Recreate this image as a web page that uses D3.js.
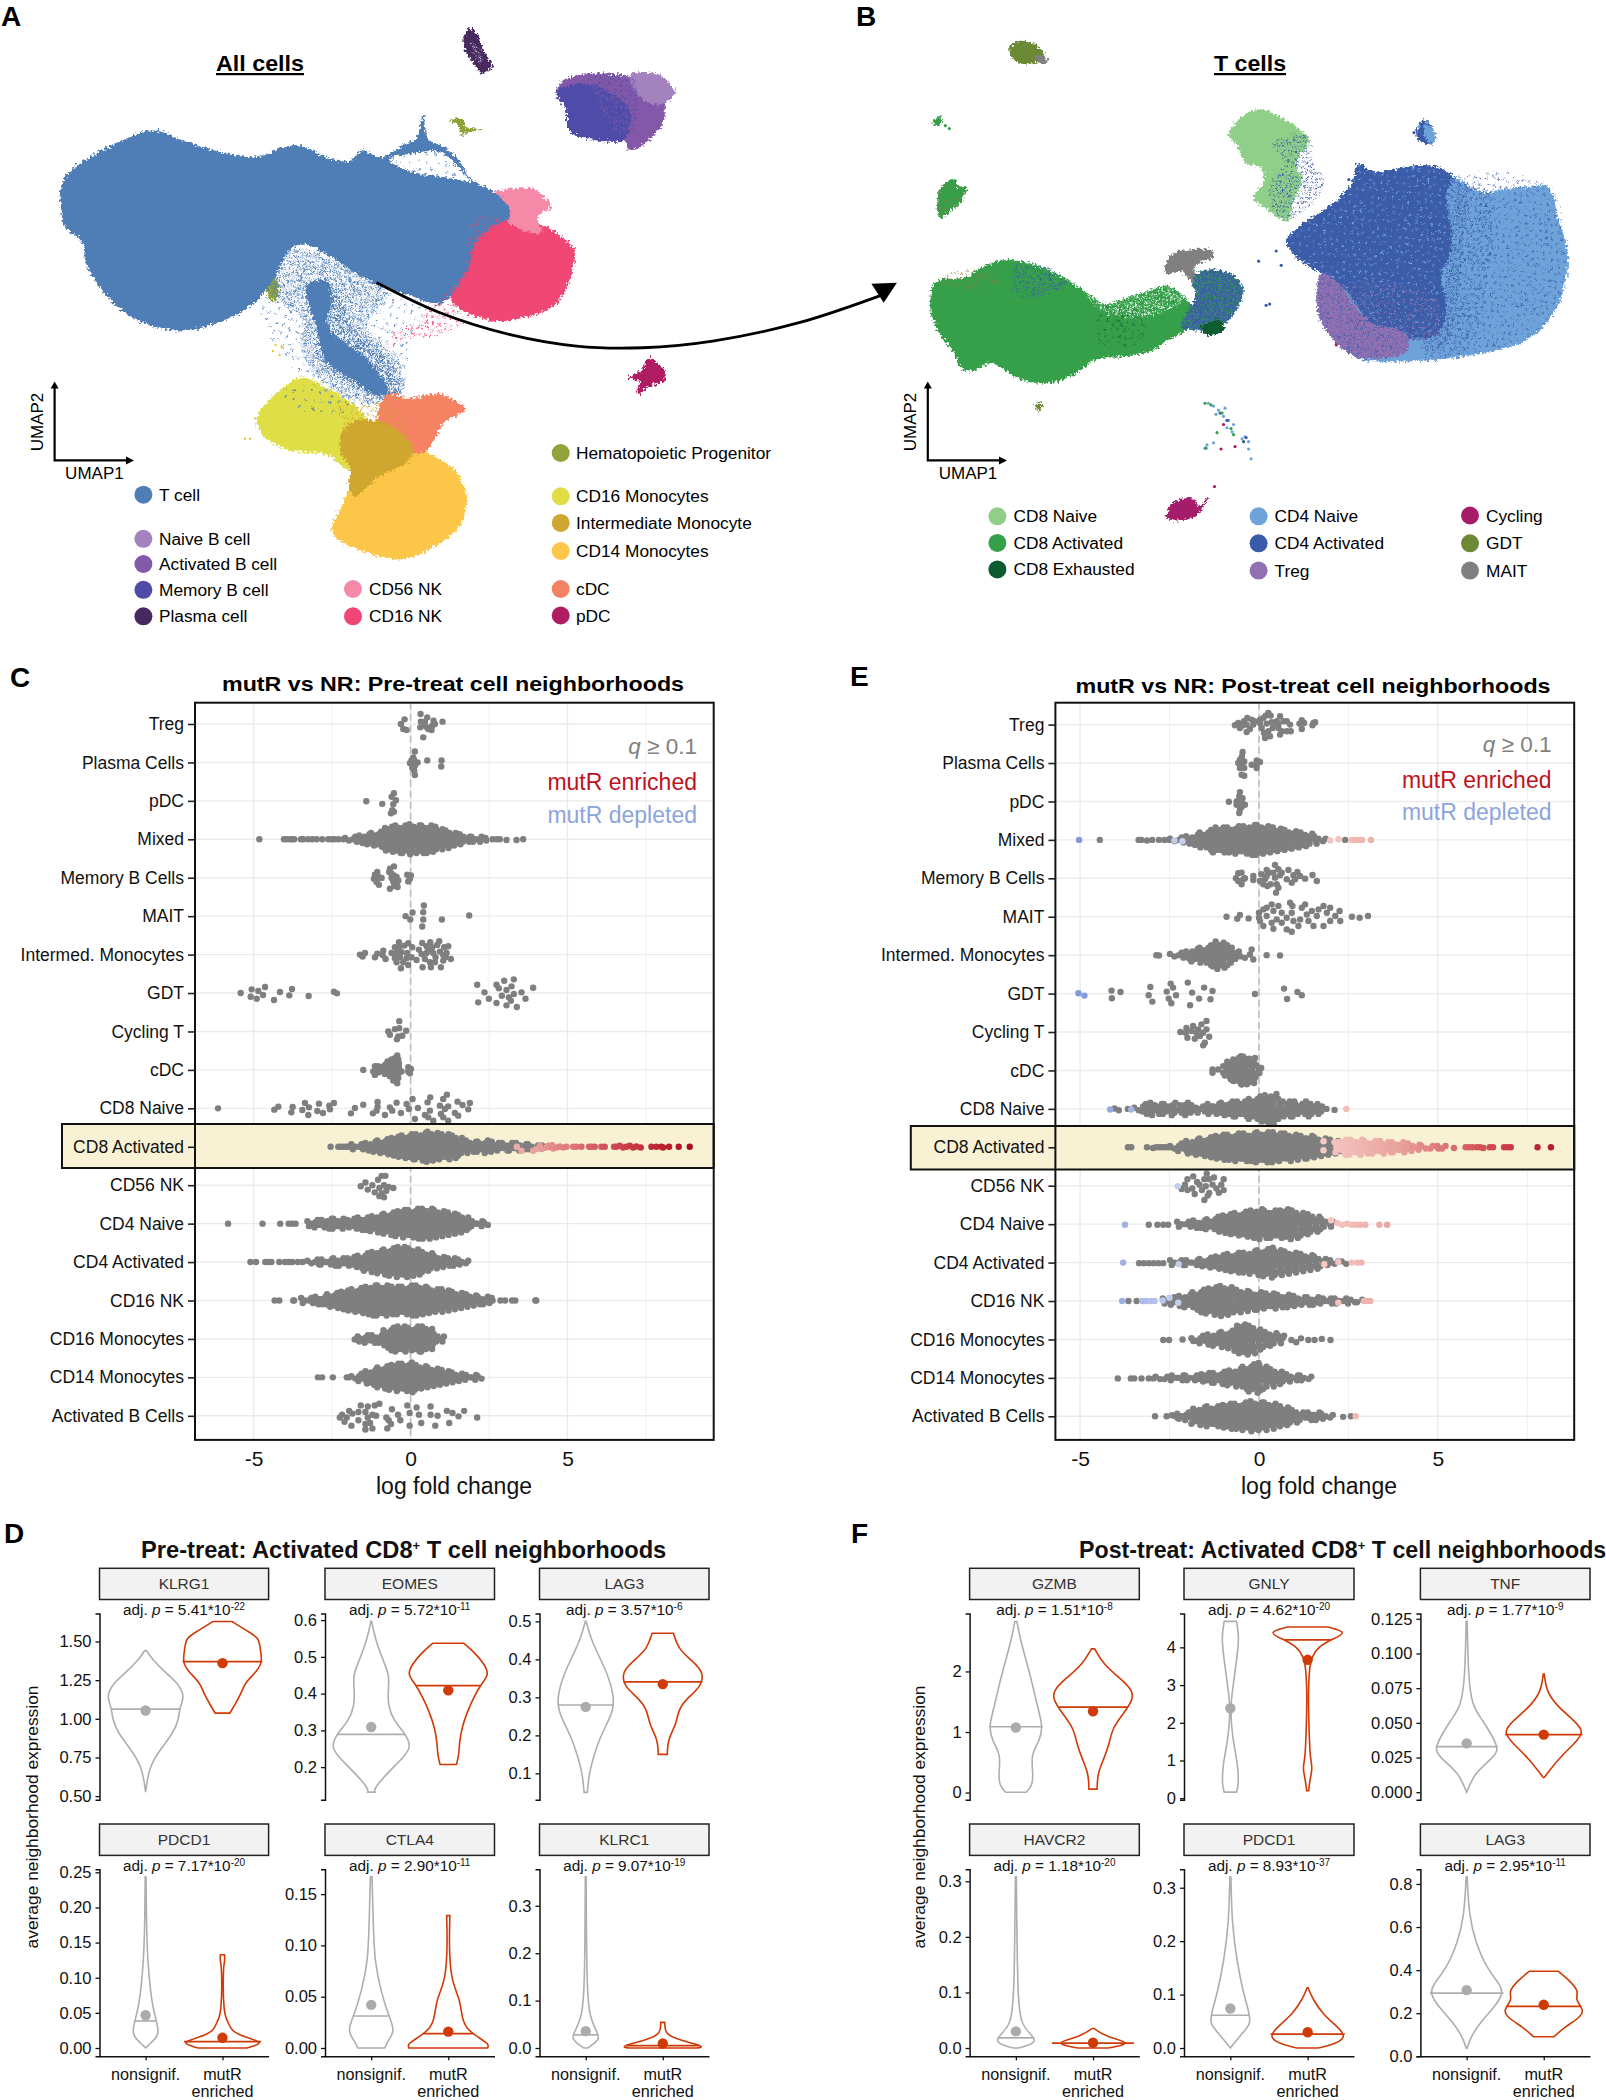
<!DOCTYPE html>
<html><head><meta charset="utf-8">
<script src="https://cdn.jsdelivr.net/npm/d3@7/dist/d3.min.js"></script>
<style>
html,body{margin:0;padding:0;background:#fff}
svg{display:block}
text{font-family:"Liberation Sans",Arial,sans-serif}
</style></head><body>
<svg id="fig" width="1606" height="2100" viewBox="0 0 1606 2100"></svg>
<script>
/* ---------- categories ---------- */
const rowNames=["Treg","Plasma Cells","pDC","Mixed","Memory B Cells","MAIT","Intermed. Monocytes","GDT","Cycling T","cDC","CD8 Naive","CD8 Activated","CD56 NK","CD4 Naive","CD4 Activated","CD16 NK","CD16 Monocytes","CD14 Monocytes","Activated B Cells"];
const xTickValues=[-5,0,5];
const groupNames=["nonsignif.","mutR enriched"];

/* ---------- panel A: UMAP outlines (UMAP units) ---------- */
const aNK16=[[935,530],[1060,550],[1110,590],[1126,612],[1115,690],[1085,750],[1020,780],[960,785],[890,745],[880,700],[900,600]];
const aNK56=[[955,480],[1045,462],[1072,490],[1082,505],[1055,530],[1060,572],[1000,548],[975,510]];
const aT=[[118,470],[130,430],[170,390],[230,350],[300,320],[360,345],[440,375],[500,385],[580,355],[640,385],[685,395],[710,368],[745,385],[790,355],[815,340],[830,282],[838,340],[870,360],[900,395],[925,440],[960,465],[990,495],[1000,530],[960,560],[930,600],[920,650],[895,705],[860,745],[800,722],[745,700],[700,670],[650,630],[600,600],[570,610],[550,650],[530,695],[490,750],[430,790],[350,810],[280,790],[220,740],[170,650],[160,590],[130,560],[118,500]];
const aHoleTop=[[762,388],[800,378],[860,372],[890,398],[915,432],[922,445],[880,436],[820,425],[775,405]];
const aHoleMid=[[555,655],[590,628],[628,650],[640,688],[590,700],[548,702]];
const aStem=[[600,700],[640,690],[665,720],[685,790],[725,840],[770,900],[782,965],[745,975],[700,950],[650,915],[620,870],[620,800],[605,745]];
const aStemDense=[[575,610],[700,670],[760,720],[720,800],[780,880],[790,960],[720,990],[630,930],[590,860],[590,780],[550,740],[530,700]];
const aStemSparse=[[520,690],[640,620],[830,740],[800,880],[785,960],[680,1000],[600,930],[535,840],[510,760]];
const aNKSpeckle=[[840,750],[900,740],[910,790],[850,825],[800,830],[760,860],[770,815],[820,790]];
const aEdgeSpeckle=[[930,530],[1000,540],[960,590],[930,650],[900,720],[880,750],[860,740],[900,680],[915,620]];
const aTopSpeckle=[[762,388],[860,372],[925,445],[820,425]];
const aMono16=[[505,1020],[545,960],[590,925],[640,950],[700,1000],[730,1060],[700,1120],[685,1150],[640,1115],[560,1100],[510,1060]];
const aMono14=[[680,1210],[700,1120],[760,1060],[820,1090],[840,1110],[890,1150],[915,1220],[900,1290],[850,1340],[790,1370],[720,1355],[660,1320],[650,1300],[665,1250]];
const aMonoInt=[[670,1060],[700,1030],[760,1040],[810,1100],[800,1130],[740,1170],[695,1215],[682,1190],[688,1150],[668,1110]];
const aCDC=[[760,965],[800,975],[860,965],[895,985],[912,1005],[870,1035],[850,1080],[830,1110],[790,1100],[740,1040]];
const aGoldSpeckle=[[660,1000],[780,1000],[800,1090],[690,1060]];
const aBlueMonoSpeckle=[[540,960],[680,950],[690,1000],[600,1010]];
const aBAll=[[1090,230],[1100,200],[1160,180],[1240,185],[1290,185],[1322,225],[1305,250],[1300,300],[1260,355],[1235,367],[1220,340],[1160,340],[1115,320],[1110,270]];
const aBMemory=[[1092,225],[1150,205],[1200,230],[1235,270],[1225,340],[1160,342],[1115,320],[1110,270]];
const aBNaive=[[1235,185],[1290,182],[1322,225],[1300,255],[1255,240]];
const aBMix=[[1150,195],[1240,190],[1250,250],[1240,330],[1190,300],[1170,240]];
const aPlasma=[[918,70],[930,75],[950,130],[965,165],[945,178],[925,150],[908,110]];
const aPlasmaHoles=[[925,100],[940,120],[945,160],[930,140]];
const aPDC=[[1230,925],[1260,905],[1268,878],[1285,885],[1305,915],[1300,935],[1275,945],[1250,965],[1248,955],[1255,935]];
const aHema=[[880,295],[905,290],[915,312],[950,316],[915,325],[905,332],[898,305]];
const aHemaSmall=[[522,680],[540,675],[545,730],[530,735]];
const aMonoYellowDots=[[540,845],[548,870],[535,860],[552,850],[490,1075],[480,1075],[500,1025]];
const aArrow=[[738,692],[860,765],[1000,820],[1130,848],[1260,852],[1400,835],[1568,790],[1735,720]];
const aArrowHead=[[1758,693],[1708,695],[1732,742]];

/* ---------- panel B: UMAP outlines ---------- */
const bCD4All=[[930,590],[960,550],[1010,510],[1060,450],[1075,400],[1100,420],[1210,405],[1260,430],[1320,470],[1370,462],[1410,458],[1450,455],[1465,490],[1470,530],[1490,600],[1492,650],[1480,720],[1450,790],[1400,840],[1300,870],[1180,885],[1080,880],[1040,850],[1000,790],[990,730],[1000,670],[950,630]];
const bCD4Act=[[930,590],[960,550],[1010,510],[1060,450],[1075,400],[1100,420],[1210,405],[1260,430],[1250,480],[1260,600],[1240,680],[1250,760],[1230,820],[1170,830],[1100,790],[1040,700],[1000,670],[950,630]];
const bTreg=[[1000,670],[1040,700],[1060,740],[1100,790],[1170,820],[1170,860],[1100,880],[1060,870],[1030,840],[1000,790],[990,730]];
const bCD4NSpeckle=[[1250,440],[1450,455],[1490,620],[1460,780],[1300,870],[1200,880],[1240,760],[1250,600]];
const bTregSpeckle=[[1040,700],[1230,730],[1230,830],[1170,830],[1100,790]];
const bEdgeSpeckle=[[1245,440],[1290,450],[1280,600],[1270,760],[1240,860],[1200,850],[1245,700]];
const bEdgeSpeckle2=[[1280,450],[1340,480],[1330,700],[1300,860],[1240,860],[1270,700]];
const bCD8A=[[220,735],[225,700],[240,685],[290,680],[330,650],[375,637],[430,650],[470,670],[500,690],[530,715],[570,745],[620,725],[660,710],[695,700],[735,740],[750,790],[700,830],[660,860],[600,875],[550,880],[510,915],[450,940],[400,930],[340,890],[300,910],[280,900],[270,870],[240,820],[222,770]];
const bCD4Small=[[740,680],[780,660],[830,680],[845,710],[830,760],[800,800],[755,810],[720,800],[735,760],[750,720]];
const bExh=[[760,800],[800,785],[805,810],[770,820]];
const bExhSpeckle=[[560,760],[640,760],[640,840],[560,840]];
const bMAIT=[[700,625],[780,613],[785,630],[750,650],[745,690],[720,665],[690,670]];
const bBlueSpeckle=[[390,650],[470,665],[490,700],[420,730],[390,720]];
const bBrownSpeckle=[[240,680],[340,660],[360,690],[250,700]];
const bGreenSpeckle=[[520,700],[600,720],[720,680],[740,720],[640,780],[560,760]];
const bGDT=[[378,115],[400,100],[430,110],[447,130],[440,150],[390,150]];
const bMAITSmall=[[428,140],[445,135],[455,155],[435,152]];
const bGreen1=[[225,295],[240,285],[243,300],[230,308]];
const bGreen2=[[240,460],[248,450],[268,438],[275,458],[292,455],[283,490],[262,515],[240,535],[234,490]];
const bOlive=[[430,990],[442,985],[440,1005],[432,1005]];
const bCD8N=[[815,330],[870,268],[960,320],[975,345],[950,400],[960,440],[940,510],[935,540],[910,530],[890,510],[865,485],[885,445],[880,410],[850,400],[830,355]];
const bCD8NSpeckle=[[900,350],[975,335],[985,400],[1005,440],[980,500],[925,540],[900,500],[900,440],[930,400]];
const bSmallCD4=[[1190,320],[1205,295],[1225,320],[1225,350],[1195,345]];
const bSmallCD4Naive=[[1205,305],[1225,320],[1225,350],[1208,340]];
const bCycling=[[692,1270],[705,1230],[745,1222],[755,1240],[775,1218],[760,1250],[740,1270],[710,1275]];
const bScatterLight=[[775,988],[785,995],[795,1005],[790,1015],[805,1020],[815,1030],[825,1040],[812,1048],[822,1058],[848,1070],[855,1082],[842,1075],[772,1090],[785,1085],[768,1098],[860,1124],[855,1100],[808,1000],[1195,310],[1212,300]];
const bScatterDark=[[850,1072],[845,1082],[812,1030],[798,1012],[1185,325],[890,748],[897,745],[875,640],[910,615],[920,650],[1070,415],[1055,440]];
const bScatterGreen=[[768,988],[780,992],[792,1060],[825,1065],[820,1050],[802,1012],[770,1098],[258,315],[250,308]];
const bScatterMag=[[805,1040],[800,1100],[828,1094],[787,1192],[1030,845]];

/* ---------- legends ---------- */
const legendAColumn1=["T cell","Naive B cell","Activated B cell","Memory B cell","Plasma cell"];
const legendAColumn2=["CD56 NK","CD16 NK"];
const legendAColumn3=["Hematopoietic Progenitor","CD16 Monocytes","Intermediate Monocyte","CD14 Monocytes","cDC","pDC"];
const legendAColors1=["#4F7DB6","#A482BE","#8459A8","#4F4CA8","#47295F"];
const legendAColors2=["#F48AA8","#F04675"];
const legendAColors3=["#8FA33A","#DFDE46","#CFA62F","#FCC648","#F48264","#B01C62"];
const legendBColumn1=["CD8 Naive","CD8 Activated","CD8 Exhausted"];
const legendBColumn2=["CD4 Naive","CD4 Activated","Treg"];
const legendBColumn3=["Cycling","GDT","MAIT"];
const legendBColors1=["#8FCF88","#35A04A","#0F5B30"];
const legendBColors2=["#6EA3DA","#3A5BA8","#9271B3"];
const legendBColors3=["#A51C6B","#6C8A35","#808080"];

/* ---------- panel C: pre-treat log fold change, individual neighbourhoods as read [x,y] ---------- */
const preTreg=[[629,61],[618,75],[625,90],[635,93],[677,45],[697,55],[678,68],[690,68],[716,65],[743,68],[720,75],[676,85],[690,80],[710,93],[696,85],[685,115],[700,90],[712,80]];
const prePlasma=[[660,157],[655,175],[650,183],[645,192],[655,190],[668,190],[697,184],[740,184],[739,202],[652,205],[658,215],[660,228],[660,200],[657,182]];
const prePDC=[[514,306],[562,314],[597,282],[590,293],[603,303],[595,315],[592,333],[597,338],[588,342]];
const preMixedTail=[[193,420],[267,420],[275,420],[285,420],[292,420],[298,420],[318,420],[325,420],[340,420],[352,420],[365,420],[382,420],[400,420],[410,420],[418,420],[430,420],[445,420],[905,420],[915,420],[935,422],[965,422],[985,420]];
const preMixedCounts=[2,3,4,5,6,7,10,11,12,12,13,12,12,12,11,9,8,6,5,3,3,3,2,1];
const preMemory=[[547,520],[540,528],[537,540],[545,550],[552,558],[550,533],[560,538],[597,503],[585,510],[583,520],[590,525],[597,530],[605,535],[590,538],[610,545],[595,548],[605,555],[598,562],[585,570],[608,565],[637,528],[648,530],[640,548],[645,540]];
const preMAIT=[[687,620],[685,640],[653,641],[632,652],[646,662],[685,662],[741,662],[823,650],[682,683]];
const preIntermed=[[495,77],[510,72],[503,83],[540,85],[547,74],[565,65],[572,90],[563,78],[612,40],[600,55],[640,43],[612,55],[628,50],[652,55],[590,72],[605,72],[620,70],[637,72],[600,88],[615,85],[635,88],[650,85],[665,93],[605,100],[618,118],[640,108],[625,100],[682,42],[706,40],[733,37],[672,62],[695,52],[712,55],[727,48],[748,55],[760,52],[680,75],[695,72],[715,72],[735,68],[755,72],[690,90],[705,100],[720,100],[745,95],[768,90],[683,115],[708,115],[738,115],[752,85],[700,65],[722,85],[745,78]];
const preGDT=[[137,192],[170,181],[190,186],[167,203],[185,209],[204,198],[210,174],[237,213],[255,189],[283,199],[291,180],[341,201],[417,188],[426,193],[847,167],[869,190],[882,209],[850,220],[905,167],[912,178],[905,222],[921,200],[928,155],[935,183],[950,172],[957,151],[957,195],[948,215],[935,229],[942,205],[966,234],[980,190],[992,209],[1015,176]];
const preCycling=[[613,276],[600,300],[613,297],[634,305],[580,307],[585,317],[622,320],[610,322],[606,330]];
const preCDC=[[505,423],[540,412],[550,412],[535,428],[545,428],[540,438],[555,420],[607,380],[600,388],[610,392],[590,392],[578,398],[600,400],[612,403],[585,408],[570,408],[598,412],[612,415],[575,420],[590,422],[603,425],[620,428],[565,425],[580,432],[595,435],[610,435],[585,442],[598,447],[610,447],[595,455],[607,463],[570,435],[640,415],[648,420],[640,428],[645,433],[560,415],[552,430]];
const preCD8N=[[69,538],[250,533],[238,542],[293,534],[289,550],[330,522],[322,543],[342,535],[340,558],[372,524],[367,546],[384,552],[403,530],[417,522],[405,541],[468,553],[480,537],[505,527],[534,553],[548,519],[548,533],[545,545],[570,558],[585,535],[592,545],[605,521],[618,552],[635,525],[642,540],[653,510],[669,537],[660,570],[690,558],[698,520],[706,505],[705,545],[700,565],[715,575],[735,530],[745,510],[756,497],[760,532],[750,540],[738,555],[745,565],[760,575],[780,552],[790,560],[788,518],[803,528],[825,522],[820,541]];
const preCD8ATail=[[407,653],[430,653],[438,653],[447,653],[455,653],[462,653]];
const preCD8ACounts=[3,3,4,5,6,7,8,9,10,11,11,12,13,12,11,11,10,8,6,5,5,6,5,4,4,4,4,3,3,2,2,1];
const preCD8AEnriched=[[966,653],[980,665],[1015,665],[1025,660],[1035,650],[1040,660],[1055,655],[1060,650],[1072,648],[1075,658],[1085,655],[1095,652],[1105,655],[1115,653],[1135,653],[1145,653],[1160,653],[1183,653],[1190,653],[1200,653],[1220,653],[1230,653],[1258,653],[1265,653],[1275,650],[1285,655],[1295,653],[1305,650],[1315,655],[1325,652],[1338,655],[1370,653],[1385,653],[1400,653],[1405,655],[1423,653],[1452,653],[1485,653]];
const preCD56=[[775,977],[790,983],[785,970],[800,975],[812,965],[820,958],[828,958],[815,980],[825,975],[835,978],[845,980],[805,988],[820,990],[830,985],[815,995],[825,997]];
const preCD4NTail=[[490,1047],[564,1047],[602,1047],[620,1047],[628,1047],[635,1047]];
const preCD4NCounts=[3,4,4,5,5,5,4,5,6,6,7,8,9,10,11,12,12,13,13,13,12,11,10,9,8,6,3,3,2];
const preCD4ATail=[[538,1117],[550,1117],[570,1117],[575,1117],[583,1117],[600,1117],[612,1117],[620,1117],[628,1117],[640,1117],[650,1117]];
const preCD4ACounts=[2,3,3,3,4,4,4,5,6,8,9,10,11,12,13,13,12,11,9,8,6,5,4,4,3,2];
const preNK16Tail=[[590,1187],[600,1187],[630,1187],[632,1187],[1075,1187],[1085,1187],[1100,1187],[1107,1187],[1150,1187],[1152,1187]];
const preNK16Counts=[3,3,4,4,6,7,8,9,10,11,12,13,13,13,12,12,12,13,13,12,11,10,10,9,8,7,6,5,4,4,3];
const preM16Tail=[[762,1258],[770,1255]];
const preM16Counts=[3,4,4,4,8,10,11,11,10,11,11,9,5,3];
const preM14Tail=[[683,1327],[692,1327],[715,1327],[745,1327],[750,1327]];
const preM14Counts=[2,4,6,7,9,10,11,12,12,13,11,10,9,8,7,6,5,4,3,3,2];
const preActB=[[735,1395],[730,1400],[740,1408],[750,1388],[757,1393],[755,1415],[770,1405],[775,1378],[785,1390],[790,1380],[805,1378],[790,1400],[800,1395],[808,1397],[785,1412],[795,1410],[785,1422],[800,1420],[832,1420],[835,1405],[840,1412],[842,1385],[855,1395],[860,1405],[875,1378],[880,1392],[880,1415],[895,1382],[900,1395],[905,1410],[925,1380],[925,1395],[940,1397],[935,1415],[960,1388],[965,1410],[972,1392],[985,1398],[997,1388],[1025,1400],[815,1375],[830,1400],[745,1400],[770,1390]];

/* ---------- panel E: post-treat ---------- */
const postTreg=[[525,77],[535,70],[540,85],[552,65],[562,55],[560,75],[548,78],[575,60],[583,65],[570,88],[560,97],[580,75],[600,70],[610,55],[625,40],[632,48],[617,48],[605,85],[620,72],[635,68],[612,100],[625,95],[615,115],[630,110],[638,85],[650,65],[660,50],[655,75],[670,65],[665,95],[660,105],[680,65],[690,75],[680,95],[692,95],[655,85],[725,62],[732,70],[718,72],[725,88],[760,70],[765,68],[757,77],[645,75],[600,60]];
const postPlasma=[[548,157],[546,170],[540,180],[553,185],[535,190],[548,195],[540,205],[553,205],[545,225],[553,228],[575,195],[590,182],[600,187],[590,195],[590,205]];
const postPDC=[[507,306],[540,277],[538,290],[548,295],[530,305],[545,305],[555,315],[530,315],[545,322],[538,340],[540,330]];
const postMixedTail=[[121,422],[237,422],[245,422],[262,424],[278,422],[298,422],[315,422],[330,422],[855,422]];
const postMixedCounts=[2,3,4,5,7,9,11,11,11,12,12,13,13,12,11,10,9,8,7,6,4,2];
const postMixedDepleted=[[59,422],[344,424],[368,426]];
const postMixedEnriched=[[810,424],[835,420],[875,422],[885,422],[895,422],[905,422],[932,422]];
const postMemory=[[535,522],[545,520],[528,537],[535,545],[545,555],[555,537],[550,540],[580,530],[580,542],[604,525],[600,545],[620,512],[628,520],[620,530],[615,540],[610,555],[645,497],[655,510],[640,520],[660,528],[645,535],[632,555],[622,560],[650,555],[648,580],[655,565],[685,512],[700,528],[680,540],[695,550],[712,518],[720,530],[735,538],[757,527],[770,545],[705,540],[665,520]];
const postMAIT=[[500,652],[532,658],[540,647],[566,657],[597,640],[597,655],[600,665],[610,630],[620,625],[635,615],[640,635],[655,620],[665,640],[650,660],[635,670],[620,650],[610,680],[665,670],[640,688],[680,655],[690,610],[697,620],[695,640],[700,665],[680,690],[695,697],[715,680],[725,625],[735,615],[740,645],[720,660],[745,665],[755,635],[775,630],[790,620],[760,680],[790,680],[800,640],[810,625],[825,650],[838,635],[810,665],[840,665],[770,650],[875,652],[898,655],[923,650]];
const postIntermedDots=[[290,77],[298,78],[575,60],[570,75],[555,85],[580,90],[620,77],[660,78]];
const postIntermedCounts=[2,3,4,6,7,9,12,11,9,4];
const postGDT=[[156,184],[183,188],[157,207],[272,173],[267,198],[278,217],[321,187],[333,163],[340,175],[349,198],[327,208],[335,222],[384,160],[397,190],[391,228],[418,208],[433,175],[458,185],[452,210],[585,194],[672,178],[712,188],[725,198],[681,209]];
const postGDTDepleted=[[57,192],[75,199]];
const postCycling=[[362,308],[380,296],[378,310],[383,325],[400,290],[395,305],[405,328],[415,300],[425,285],[440,275],[430,310],[420,320],[440,300],[448,322],[435,340],[430,348],[410,310]];
const postCDCDots=[[458,420],[458,430],[475,420],[490,410],[490,430],[500,420],[495,438],[510,410],[520,390],[543,380],[568,388],[520,455],[545,465],[570,458]];
const postCDCCounts=[8,11,12,11,5];
const postCD8NDots=[[165,537],[178,542],[205,538],[823,541]];
const postCD8NCounts=[2,5,6,5,5,6,4,6,4,3,5,5,6,7,7,7,9,11,12,13,9,7,7,5,7,5,3];
const postCD8NDepleted=[[152,540],[215,540]];
const postCD8NEnriched=[[858,538]];
const postCD8ATail=[[205,653],[215,653],[262,653],[280,655],[290,653],[300,653],[310,653],[320,653],[330,653]];
const postCD8ACounts=[2,4,6,7,8,9,10,11,11,12,12,12,13,13,13,12,12,11,10,10,9,8,7,6,4,3];
const postCD8AEnrichedCounts=[5,7,7,7,6,6,6,5,5,5,4,3,2,2,2,2];
const postCD8AEnriched=[[790,635],[790,662],[835,637],[1180,655],[1215,653],[1225,653],[1235,653],[1248,653],[1258,653],[1268,655],[1287,653],[1297,653],[1330,653],[1340,653],[1350,653],[1430,653],[1470,653]];
const postCD56=[[740,955],[735,965],[745,965],[755,962],[775,965],[700,965],[712,960],[720,970],[695,975],[710,982],[725,975],[738,978],[752,975],[770,975],[775,985],[765,990],[745,990],[730,985],[735,1003],[742,995],[700,985],[715,992],[760,982],[688,983]];
const postCD56Depleted=[[680,978]];
const postCD4NTail=[[620,1048],[638,1048],[650,1048],[660,1048]];
const postCD4NCounts=[3,3,4,4,5,7,8,9,10,11,12,13,12,12,12,13,12,10,9,7,5,3];
const postCD4NDepleted=[[571,1048]];
const postCD4NEnriched=[[997,1040],[1010,1045],[1020,1048],[1030,1046],[1040,1048],[1050,1048],[1058,1048],[1068,1048],[1097,1048],[1113,1048]];
const postCD4ATail=[[600,1118],[610,1118],[620,1118],[630,1118],[640,1118],[650,1118]];
const postCD4ACounts=[3,3,3,3,4,5,6,7,8,9,9,10,11,12,13,11,10,9,8,7,6,4,3,2,2];
const postCD4ADepleted=[[567,1117],[682,1120]];
const postCD4AEnriched=[[983,1120],[1012,1116],[1040,1117],[1052,1117],[1060,1117]];
const postNK16Tail=[[578,1187],[595,1187]];
const postNK16Counts=[3,4,5,6,8,10,11,12,13,12,10,9,8,8,7,7,6,6,5,4,4,4,3,3,3,3,2,2];
const postNK16Depleted=[[565,1187],[607,1187],[615,1187],[625,1187],[632,1187],[649,1186],[663,1181],[681,1190]];
const postNK16Enriched=[[1012,1190],[1065,1187],[1072,1187],[1078,1187]];
const postM16Dots=[[650,1258],[662,1258],[690,1257],[712,1260],[900,1250],[915,1258],[925,1262],[935,1255],[950,1258],[963,1258],[978,1256],[996,1258]];
const postM16Counts=[2,4,5,6,7,8,12,13,12,9,7,6,4];
const postM14Tail=[[556,1328],[583,1328],[590,1328],[605,1328],[620,1328],[630,1328]];
const postM14Counts=[2,2,3,3,3,3,4,5,5,6,7,8,10,12,13,10,8,6,4,3,3,2];
const postActBDots=[[633,1397],[657,1397],[668,1395],[675,1397],[680,1400],[1022,1398],[1038,1397]];
const postActBCounts=[3,4,7,8,9,9,10,11,11,12,13,12,12,11,9,8,6,4,4,4,3,2];
const postActBEnriched=[[1048,1397]];

/* ---------- panels D and F: violin profiles, [expression, relative density] ---------- */
const klrg1Ns=[[1.442,.02],[1.381,.17],[1.295,.5],[1.231,.79],[1.144,.96],[1.08,.83],[.994,.81],[.907,.67],[.8,.35],[.692,.1],[.584,.03],[.526,0]];
const klrg1Mut=[[1.629,.23],[1.565,.62],[1.522,.9],[1.446,.92],[1.36,.98],[1.295,.79],[1.23,.54],[1.166,.46],[1.1,.32],[1.037,.18]];
const eomesNs=[[.5965,.01],[.5515,.09],[.49,.29],[.449,.45],[.408,.41],[.367,.41],[.326,.55],[.296,.8],[.255,1],[.224,.76],[.183,.39],[.142,.07],[.132,.09]];
const eomesMut=[[.537,.38],[.511,.65],[.48,.88],[.452,1],[.429,.82],[.388,.61],[.347,.45],[.306,.33],[.265,.27],[.234,.26],[.207,.2]];
const lag3Ns=[[.5,.01],[.456,.12],[.407,.33],[.357,.55],[.308,.68],[.268,.68],[.229,.51],[.189,.33],[.15,.21],[.1,.08],[.05,.04]];
const lag3Mut=[[.469,.26],[.427,.38],[.397,.71],[.367,1],[.328,.94],[.298,.59],[.268,.38],[.229,.33],[.189,.12],[.15,.11]];
const pdcd1Ns=[[.2436,.01],[.1767,.02],[.123,.05],[.08,.12],[.0535,.19],[.0268,.32],[.016,.29],[.005,.09],[0,0]];
const pdcd1Mut=[[.1328,.05],[.123,.06],[.118,.015],[.048,.02],[.0375,.14],[.024,.21],[.016,.53],[.008,1],[.0027,.76],[0,.59]];
const ctla4Ns=[[.1668,.02],[.121,.05],[.0843,.08],[.055,.24],[.033,.41],[.0165,.59],[.0073,.41],[0,.33]];
const ctla4Mut=[[.129,.04],[.1027,.02],[.066,.06],[.0477,.29],[.0293,.33],[.0183,.45],[.011,.71],[.0037,1],[0,.96]];
const klrc1Ns=[[.361,.01],[.1825,.02],[.103,.05],[.0635,.11],[.0357,.26],[.0198,.35],[.0079,.18],[0,.05]];
const klrc1Mut=[[.054,.05],[.032,.05],[.0198,.29],[.0079,.82],[.0016,1],[0,.82]];
const gzmbNs=[[2.826,.025],[2.553,.1],[2.18,.25],[1.807,.4],[1.435,.52],[1.093,.66],[.876,.59],[.627,.37],[.379,.41],[.13,.42],[.006,.25]];
const gzmbMut=[[2.373,.04],[2.118,.25],[1.87,.69],[1.683,.97],[1.528,.97],[1.311,.75],[1.062,.47],[.814,.4],[.565,.27],[.317,.11],[.056,.1]];
const gnlyNs=[[4.688,.15],[4.249,.22],[3.651,.15],[2.653,.025],[2.354,.006],[1.656,.04],[.858,.19],[.359,.2],[.16,.15]];
const gnlyMut=[[4.539,.5],[4.399,1],[4.2,.56],[4,.25],[3.75,.1],[3.451,.04],[2.653,.012],[1.656,.04],[1.057,.06],[.808,.125],[.459,.05],[.2,.025]];
const tnfNs=[[.1231,.012],[.0841,.04],[.0624,.125],[.0515,.4],[.0407,.62],[.0298,.81],[.023,.56],[.0136,.19],[0,0]];
const tnfMut=[[.0851,.012],[.0732,.06],[.0624,.31],[.0515,.75],[.0434,1],[.0352,.75],[.0244,.37],[.0106,.012]];
const havcr2Ns=[[.308,.012],[.088,.04],[.0406,.125],[.0203,.44],[.0102,.47],[.0034,.25],[0,.06]];
const havcr2Mut=[[.0352,.025],[.0203,.31],[.0088,1],[0,.37]];
const pdcd1PostNs=[[.32,.012],[.232,.04],[.162,.16],[.1056,.31],[.0704,.44],[.0458,.52],[.0246,.25],[0,0]];
const pdcd1PostMut=[[.1127,.012],[.0915,.125],[.0634,.37],[.0423,.69],[.019,1],[.0035,.5],[0,.25]];
const lag3PostNs=[[.833,.012],[.65,.06],[.5275,.22],[.405,.5],[.335,.81],[.292,.9],[.231,.69],[.161,.35],[.091,.1],[.038,.012]];
const lag3PostMut=[[.395,.35],[.353,.62],[.3,.87],[.265,.75],[.213,1],[.178,.87],[.1345,.5],[.091,.25]];

const geneAnnotations=["KLRG1","EOMES","LAG3","PDCD1","CTLA4","KLRC1","GZMB","GNLY","TNF","HAVCR2","PDCD1","LAG3"];
const adjP=["5.41","5.72","3.57","7.17","2.90","9.07","1.51","4.62","1.77","1.18","8.93","2.95"];
const adjExp=["-22","-11","-6","-20","-11","-19","-8","-20","-9","-20","-37","-11"];
const nsMedians=[1.0625,.289,.28,.0385,.0312,.0278,1.087,2.38,.0328,.0183,.0613,.293];
const nsMeans=[1.054,.309,.275,.0466,.042,.0357,1.075,2.384,.0352,.03,.074,.307];
const mutMedians=[1.37,.4215,.341,.009,.014,.005,1.41,4.2,.0415,.0088,.026,.232];
const mutMeans=[1.36,.409,.335,.0145,.016,.0095,1.342,3.67,.0415,.0095,.0296,.239];
const axisDomains=[[.477,1.681],[.1114,.618],[.0307,.5208],[-.0118,.2543],[-.0081,.1742],[-.0175,.377],[-.118,2.957],[-.04,4.898],[-.0054,.1288],[-.0149,.3216],[-.0155,.3345],[0,.868]];
const axisTicks=[[.5,.75,1,1.25,1.5],[.2,.3,.4,.5,.6],[.1,.2,.3,.4,.5],[0,.05,.1,.15,.2,.25],[0,.05,.1,.15],[0,.1,.2,.3],[0,1,2],[0,1,2,3,4],[0,.025,.05,.075,.1,.125],[0,.1,.2,.3],[0,.1,.2,.3],[0,.2,.4,.6,.8]];
const axisFormats=[".2f",".1f",".1f",".2f",".2f",".1f",".0f",".0f",".3f",".1f",".1f",".1f"];
const violinNs=[klrg1Ns,eomesNs,lag3Ns,pdcd1Ns,ctla4Ns,klrc1Ns,gzmbNs,gnlyNs,tnfNs,havcr2Ns,pdcd1PostNs,lag3PostNs];
const violinMut=[klrg1Mut,eomesMut,lag3Mut,pdcd1Mut,ctla4Mut,klrc1Mut,gzmbMut,gnlyMut,tnfMut,havcr2Mut,pdcd1PostMut,lag3PostMut];

/* ---------- layout ---------- */
const FONT='"Liberation Sans",Arial,sans-serif';
const svg=d3.select("#fig");
const defs=svg.append("defs");
const grain=defs.append("filter").attr("id","grain").attr("x","-5%").attr("y","-5%").attr("width","110%").attr("height","110%");
grain.append("feTurbulence").attr("type","fractalNoise").attr("baseFrequency",.4).attr("numOctaves",2).attr("seed",4).attr("result","n");
grain.append("feDisplacementMap").attr("in","SourceGraphic").attr("in2","n").attr("scale",8).attr("xChannelSelector","R").attr("yChannelSelector","G");
const speckleTile=[[3,5],[11,2],[17,9],[6,13],[14,17],[21,20],[25,6],[2,22],[28,14],[10,25],[19,27],[27,26]];
function speckle(id,color,size,r,angle=23){
  const p=defs.append("pattern").attr("id",id).attr("patternUnits","userSpaceOnUse").attr("width",size).attr("height",size).attr("patternTransform",`rotate(${angle})`);
  speckleTile.forEach(d=>p.append("circle").attr("cx",d[0]*size/30).attr("cy",d[1]*size/30).attr("r",r).attr("fill",color));
  return `url(#${id})`;
}
const sBlue=speckle("sBlue","#4F7DB6",13,1.15), sBlueOuter=speckle("sBlueOuter","#4F7DB6",27,1.0,41), sRed=speckle("sRed","#F04675",20,1.1), sBlue2=speckle("sBlue2","#4F7DB6",30,1.0);
const sPlasma=speckle("sPlasma","#ffffff",12,.8);
const sGold=speckle("sGold","#CFA62F",18,1.1), sMem=speckle("sMem","#4F4CA8",15,1.0), sAct=speckle("sAct","#8459A8",16,1.0);
const sDark=speckle("sDark","#3A5BA8",22,1.0), sLight=speckle("sLight","#7BAEE0",24,.95), sTreg=speckle("sTreg","#3A5BA8",15,1.0), sTreg2=speckle("sTreg2","#9271B3",18,1.0);
const sDarkGreen=speckle("sDarkGreen","#0F5B30",22,1.0), sBlueB=speckle("sBlueB","#3A5BA8",16,1.1), sBrown=speckle("sBrown","#8A7A45",18,1.0), sWhite=speckle("sWhite","#ffffff",14,1.0);
const sMix=speckle("sMix","#3A5BA8",14,1.05,37), sMix2=speckle("sMix2","#3A5BA8",20,1.0,11), sGreenB=speckle("sGreenB","#35A04A",12,1.1);

const aX=d3.scaleLinear().domain([0,1568]).range([0,800]), aY=d3.scaleLinear().domain([0,1568]).range([0,640]);
const bX=d3.scaleLinear().domain([0,1568]).range([820,1606]), bY=aY;
const blob=(X,Y)=>d3.line().x(d=>X(d[0])).y(d=>Y(d[1])).curve(d3.curveCatmullRomClosed.alpha(.5));
const straight=(X,Y)=>d3.line().x(d=>X(d[0])).y(d=>Y(d[1]));

function drawLayers(g,layers,X,Y){
  const gen=blob(X,Y);
  g.selectAll("path").data(layers).join("path").attr("d",d=>gen(d[0])).attr("fill",d=>d[1]);
}
/* panel A */
const gA=svg.append("g").attr("filter","url(#grain)");
drawLayers(gA,[
 [aBAll,"#8459A8"],[aBNaive,"#A482BE"],[aBMemory,"#4F4CA8"],[aBMix,sMem],[aBMix,sAct],
 [aPlasma,"#47295F"],[aPlasmaHoles,sPlasma],[aPDC,"#B01C62"],[aHema,"#8FA33A"],[aHemaSmall,"#8FA33A"],
 [aNK16,"#F04675"],[aNK56,"#F48AA8"],[aT,"#4F7DB6"],
 [aHoleTop,"#ffffff"],[aHoleMid,"#ffffff"],[aTopSpeckle,sBlue2],[aStemSparse,sBlueOuter],[aStemDense,sBlue],[aStem,sBlue],[aStem,sBlue],[aNKSpeckle,sRed],[aEdgeSpeckle,sRed],
 [aMono16,"#DFDE46"],[aMono14,"#FCC648"],[aCDC,"#F48264"],[aMonoInt,"#CFA62F"],[aGoldSpeckle,sGold],[aBlueMonoSpeckle,sBlue2]
],aX,aY);
const aStemCore=[[600,700],[640,690],[650,740],[640,790],[670,835],[720,880],[760,960],[740,970],[690,930],[640,885],[620,800],[605,745]];
gA.append("path").attr("d",blob(aX,aY)(aStemCore)).attr("fill","#4F7DB6");
svg.append("g").selectAll("circle").data(aMonoYellowDots).join("circle").attr("cx",d=>aX(d[0])).attr("cy",d=>aY(d[1])).attr("r",1.2).attr("fill","#E9C24A");
svg.append("path").attr("d",d3.line().x(d=>aX(d[0])).y(d=>aY(d[1])).curve(d3.curveCatmullRom)(aArrow)).attr("fill","none").attr("stroke","#000").attr("stroke-width",2.8);
svg.append("path").attr("d",straight(aX,aY)(aArrowHead)+"Z").attr("fill","#000");

/* panel B */
const gB=svg.append("g").attr("filter","url(#grain)");
drawLayers(gB,[
 [bCD4All,"#6EA3DA"],[bCD4NSpeckle,sDark],[bCD4Act,"#3A5BA8"],[bCD4Act,sLight],[bEdgeSpeckle,sMix],[bEdgeSpeckle2,sMix2],[bTreg,"#9271B3"],[bTreg,sTreg],[bTregSpeckle,sTreg2],
 [bCD8N,"#8FCF88"],[bCD8NSpeckle,sBlueB],
 [bCD8A,"#35A04A"],[bCD4Small,"#3A5BA8"],[bCD4Small,sGreenB],[bMAIT,"#808080"],[bExh,"#0F5B30"],[bExhSpeckle,sDarkGreen],[bBlueSpeckle,sBlueB],[bBrownSpeckle,sBrown],[bGreenSpeckle,sWhite],
 [bGDT,"#6C8A35"],[bMAITSmall,"#808080"],[bGreen1,"#35A04A"],[bGreen2,"#35A04A"],[bGreen2,sBrown],[bOlive,"#6C8A35"],
 [bSmallCD4,"#3A5BA8"],[bSmallCD4Naive,"#6EA3DA"],[bCycling,"#A51C6B"]
],bX,bY);
[[bScatterLight,"#6EA3DA"],[bScatterDark,"#3A5BA8"],[bScatterGreen,"#35A04A"],[bScatterMag,"#A51C6B"]].forEach(([pts,c])=>{
  svg.append("g").selectAll("circle").data(pts).join("circle").attr("cx",d=>bX(d[0])).attr("cy",d=>bY(d[1])).attr("r",1.6).attr("fill",c);
});

/* titles / panel letters */
function label(x,y,t,size,opts={}){
  const e=svg.append("text").attr("x",x).attr("y",y).text(t).attr("font-size",size).attr("fill",opts.fill||"#000")
   .attr("text-anchor",opts.anchor||"start").attr("font-weight",opts.bold?"bold":"normal");
  if(opts.underline)e.attr("text-decoration","underline");
  if(opts.rotate)e.attr("transform",`rotate(-90 ${x} ${y})`);
  if(opts.len)e.attr("textLength",opts.len).attr("lengthAdjust","spacingAndGlyphs");
  return e;
}
[["A",1,26],["B",856,26],["C",10,687],["E",850,686],["D",4,1543],["F",851,1543]].forEach(d=>label(d[1],d[2],d[0],28,{bold:true}));
label(260,71,"All cells",22,{bold:true,anchor:"middle",underline:true,len:88});
label(1250,71,"T cells",22,{bold:true,anchor:"middle",underline:true,len:72});

/* UMAP key arrows */
function umapKey(x0,yBase,xEnd,yEnd,tx,ty){
  const g=svg.append("g");
  g.append("path").attr("d",d3.line()([[x0,yEnd+6],[x0,yBase],[xEnd-6,yBase]])).attr("fill","none").attr("stroke","#000").attr("stroke-width",2.2);
  g.append("path").attr("d",d3.line()([[x0-4,yEnd+7],[x0,yEnd],[x0+4,yEnd+7]])+"Z").attr("fill","#000");
  g.append("path").attr("d",d3.line()([[xEnd-8,yBase-4],[xEnd,yBase],[xEnd-8,yBase+4]])+"Z").attr("fill","#000");
  label(tx,yBase+19,"UMAP1",17,{anchor:"middle"});
  label(ty,(yBase+yEnd)/2+1,"UMAP2",17,{anchor:"middle",rotate:true});
}
umapKey(54.6,460.4,134,381.6,94.4,43);
umapKey(927.8,460.4,1007,381.6,968,916);

function legend(names,colors,cx,tx,ys){
  names.forEach((n,i)=>{
    svg.append("circle").attr("cx",cx).attr("cy",ys[i]).attr("r",9).attr("fill",colors[i]);
    label(tx,ys[i]+6,n,17.3);
  });
}
legend(legendAColumn1,legendAColors1,143.4,159,[494.7,538.8,564,589.8,616.3]);
legend(legendAColumn2,legendAColors2,353,369,[589,616.3]);
legend(legendAColumn3,legendAColors3,560.7,576,[453,496.3,522.9,551,589,615.5]);
legend(legendBColumn1,legendBColors1,997.4,1013.5,[516.3,542.9,569.4]);
legend(legendBColumn2,legendBColors2,1258.6,1274.5,[516.3,543.3,570.6]);
legend(legendBColumn3,legendBColors3,1470,1486,[515.5,543.3,570.6]);

/* ---------- beeswarm panels ---------- */
const enrColor=d3.scaleLinear().domain([2,4,5.5,7,8.8]).range(["#F5C6C1","#E8A09B","#D9696A","#C93A45","#AE0F1E"]);
const depColor=d3.scaleLinear().domain([-5,-3.5,-2]).range(["#7F9ADB","#A4B7E4","#C8D3EF"]);
const GRAY="#7F7F7F";
const staggerLfc=[-.0875,.0375,-.0375,.0875,-.0625,.0625,-.0125,.0125];

function beeswarm(cfg){
  const x=d3.scaleLinear().domain(cfg.xDomain).range([cfg.left,cfg.right]);
  const rowY=d3.scalePoint().domain(rowNames).range(cfg.rowRange);
  const stackY=d3.scaleLinear().domain([0,1]).range([0,2.5]);
  const g=svg.append("g");
  const grid=g.append("g");
  [-7.5,-2.5,2.5,7.5].filter(v=>v>cfg.xDomain[0]&&v<cfg.xDomain[1]).forEach(v=>grid.append("line").attr("x1",x(v)).attr("x2",x(v)).attr("y1",cfg.top).attr("y2",cfg.bottom).attr("stroke","#f0f0f0").attr("stroke-width",1));
  xTickValues.forEach(v=>grid.append("line").attr("x1",x(v)).attr("x2",x(v)).attr("y1",cfg.top).attr("y2",cfg.bottom).attr("stroke","#ebebeb").attr("stroke-width",1.4));
  rowNames.forEach(n=>grid.append("line").attr("x1",cfg.left).attr("x2",cfg.right).attr("y1",rowY(n)).attr("y2",rowY(n)).attr("stroke","#ebebeb").attr("stroke-width",1.4));
  grid.append("line").attr("x1",x(0)).attr("x2",x(0)).attr("y1",cfg.top).attr("y2",cfg.bottom).attr("stroke","#bdbdbd").attr("stroke-width",1.6).attr("stroke-dasharray","7 4");

  function dotsFor(row){
    const sheet=row.low?cfg.lowSheet:cfg.hiSheet, ys=row.low?1.823:3;
    const out=[];
    const readings=(arr,kind)=>(arr||[]).forEach(p=>out.push({v:sheet(p[0]),dy:(p[1]-row.center)/ys,kind}));
    const bins=(counts,from,kind)=>{ (counts||[]).forEach((n,i)=>{
        for(let k=0;k<n;k++) out.push({v:from+i*.2+staggerLfc[(k+i)%8],dy:stackY(k-(n-1)/2),kind});
    });};
    readings(row.dots,"n"); bins(row.counts,row.from,"n");
    bins(row.enrCounts,row.enrFrom,"e"); readings(row.enr,"e"); readings(row.dep,"d");
    return out;
  }
  function drawRow(parent,row){
    parent.append("g").selectAll("circle").data(dotsFor(row)).join("circle")
      .attr("cx",d=>x(d.v)).attr("cy",d=>rowY(row.name)+d.dy).attr("r",3.2)
      .attr("fill",d=>d.kind==="e"?enrColor(d.v):d.kind==="d"?depColor(d.v):GRAY);
  }
  const under=g.append("g");
  cfg.rows.filter(r=>r.name!=="CD8 Activated").forEach(r=>drawRow(under,r));
  /* highlight band */
  g.append("rect").attr("x",cfg.hiLeft).attr("y",cfg.hiTop).attr("width",cfg.right-cfg.hiLeft).attr("height",cfg.hiBottom-cfg.hiTop).attr("fill","#F8F1D4").attr("stroke","#111").attr("stroke-width",2);
  drawRow(g,cfg.rows.find(r=>r.name==="CD8 Activated"));
  g.append("rect").attr("x",cfg.left).attr("y",cfg.top).attr("width",cfg.right-cfg.left).attr("height",cfg.bottom-cfg.top).attr("fill","none").attr("stroke","#111").attr("stroke-width",2);
  /* axes */
  const ya=g.append("g").attr("transform",`translate(${cfg.left},0)`).call(d3.axisLeft(rowY).tickSize(7).tickPadding(4));
  ya.select(".domain").remove();
  ya.selectAll("line").attr("stroke","#222").attr("stroke-width",1.6);
  ya.selectAll("text").attr("font-size",17.5).attr("font-family",FONT).attr("fill","#111");
  const xa=g.append("g").attr("transform",`translate(0,${cfg.bottom})`).call(d3.axisBottom(x).tickValues(xTickValues).tickSize(0).tickPadding(11).tickFormat(d3.format("d")));
  xa.select(".domain").remove();
  xa.selectAll("text").attr("font-size",21).attr("font-family",FONT).attr("fill","#111").text(d=>d<0?"-"+Math.abs(d):d);
  label(cfg.xLabelX,1494,"log fold change",23,{anchor:"middle",fill:"#111"});
  label(cfg.titleX,cfg.titleY,cfg.title,21,{bold:true,anchor:"middle",len:cfg.titleLen});
  const q=svg.append("text").attr("x",cfg.keyX).attr("y",cfg.keyY[0]).attr("text-anchor","end").attr("font-size",22.5).attr("fill","#808080");
  q.append("tspan").attr("font-style","italic").text("q");q.append("tspan").text(" ≥ 0.1");
  label(cfg.keyX,cfg.keyY[1],"mutR enriched",23,{anchor:"end",fill:"#BE1220"});
  label(cfg.keyX,cfg.keyY[2],"mutR depleted",23,{anchor:"end",fill:"#8CA4DC"});
}
beeswarm({
  xDomain:[-6.87,9.66],left:195,right:713.7,top:702.7,bottom:1439.9,rowRange:[724,1415.8],
  hiLeft:62,hiTop:1124,hiBottom:1168,xLabelX:454,title:"mutR vs NR: Pre-treat cell neighborhoods",titleX:453,titleY:691,titleLen:462,
  keyX:697,keyY:[754,790,823],
  hiSheet:d3.scaleLinear().domain([647,1118]).range([0,5]),lowSheet:d3.scaleLinear().domain([882,1219]).range([0,5]),
  rows:[
   {name:"Treg",center:75,dots:preTreg},{name:"Plasma Cells",center:190,dots:prePlasma},{name:"pDC",center:305,dots:prePDC},
   {name:"Mixed",center:420,dots:preMixedTail,counts:preMixedCounts,from:-2},
   {name:"Memory B Cells",center:537,dots:preMemory},{name:"MAIT",center:652,dots:preMAIT},
   {name:"Intermed. Monocytes",center:77,dots:preIntermed},{name:"GDT",center:192,dots:preGDT},{name:"Cycling T",center:307,dots:preCycling},
   {name:"cDC",center:423,dots:preCDC},{name:"CD8 Naive",center:538,dots:preCD8N},
   {name:"CD8 Activated",center:653,dots:preCD8ATail,counts:preCD8ACounts,from:-1.8,enr:preCD8AEnriched},
   {name:"CD56 NK",low:true,center:975,dots:preCD56},
   {name:"CD4 Naive",low:true,center:1047,dots:preCD4NTail,counts:preCD4NCounts,from:-3.2},
   {name:"CD4 Activated",low:true,center:1117,dots:preCD4ATail,counts:preCD4ACounts,from:-3.2},
   {name:"CD16 NK",low:true,center:1187,dots:preNK16Tail,counts:preNK16Counts,from:-3.4},
   {name:"CD16 Monocytes",low:true,center:1257,dots:preM16Tail,counts:preM16Counts,from:-1.6},
   {name:"CD14 Monocytes",low:true,center:1327,dots:preM14Tail,counts:preM14Counts,from:-1.8},
   {name:"Activated B Cells",low:true,center:1397,dots:preActB}
  ]});
beeswarm({
  xDomain:[-5.69,8.81],left:1055.4,right:1574.2,top:702.7,bottom:1439.9,rowRange:[724.6,1416.3],
  hiLeft:910.8,hiTop:1126,hiBottom:1169.5,xLabelX:1319,title:"mutR vs NR: Post-treat cell neighborhoods",titleX:1313,titleY:693,titleLen:475,
  keyX:1551.5,keyY:[752,788,820],
  hiSheet:d3.scaleLinear().domain([597,1132]).range([0,5]),lowSheet:d3.scaleLinear().domain([848,1218]).range([0,5]),
  rows:[
   {name:"Treg",center:75,dots:postTreg},{name:"Plasma Cells",center:190,dots:postPlasma},{name:"pDC",center:305,dots:postPDC},
   {name:"Mixed",center:422,dots:postMixedTail,counts:postMixedCounts,from:-2.4,dep:postMixedDepleted,enr:postMixedEnriched},
   {name:"Memory B Cells",center:537,dots:postMemory},{name:"MAIT",center:652,dots:postMAIT},
   {name:"Intermed. Monocytes",center:77,dots:postIntermedDots,counts:postIntermedCounts,from:-2.4},
   {name:"GDT",center:193,dots:postGDT,dep:postGDTDepleted},{name:"Cycling T",center:308,dots:postCycling},
   {name:"cDC",center:423,dots:postCDCDots,counts:postCDCCounts,from:-.8},
   {name:"CD8 Naive",center:538,dots:postCD8NDots,counts:postCD8NCounts,from:-3.4,dep:postCD8NDepleted,enr:postCD8NEnriched},
   {name:"CD8 Activated",center:653,dots:postCD8ATail,counts:postCD8ACounts,from:-2.4,enrCounts:postCD8AEnrichedCounts,enrFrom:2.2,enr:postCD8AEnriched},
   {name:"CD56 NK",low:true,center:977,dots:postCD56,dep:postCD56Depleted},
   {name:"CD4 Naive",low:true,center:1047,dots:postCD4NTail,counts:postCD4NCounts,from:-2.2,dep:postCD4NDepleted,enr:postCD4NEnriched},
   {name:"CD4 Activated",low:true,center:1117,dots:postCD4ATail,counts:postCD4ACounts,from:-2.4,dep:postCD4ADepleted,enr:postCD4AEnriched},
   {name:"CD16 NK",low:true,center:1187,dots:postNK16Tail,counts:postNK16Counts,from:-2.6,dep:postNK16Depleted,enr:postNK16Enriched},
   {name:"CD16 Monocytes",low:true,center:1257,dots:postM16Dots,counts:postM16Counts,from:-1.8},
   {name:"CD14 Monocytes",low:true,center:1327,dots:postM14Tail,counts:postM14Counts,from:-2.8},
   {name:"Activated B Cells",low:true,center:1397,dots:postActBDots,counts:postActBCounts,from:-2.2,enr:postActBEnriched}
  ]});

/* ---------- violin panels ---------- */
const colsD=[[99.5,268.6],[325,494.5],[539.5,709]], colsF=[[969.6,1139.3],[1184,1354],[1420.4,1590]];
const rowsY=[[1613.5,1799.7],[1869.3,2056.3]], stripY=[[1568.3,1599.5],[1824,1855.4]], pBase=[1615,1871];
const widthScale=d3.scaleLinear().domain([0,1]).range([0,41]);
const NS="#AEAEAE", MUT="#CF3A06";
function violinPanel(i){
  const side=i<6?colsD:colsF, k=i%6, c=side[k%3], r=k<3?0:1;
  const y=d3.scaleLinear().domain(axisDomains[i]).range([rowsY[r][1],rowsY[r][0]]);
  const x=d3.scalePoint().domain(groupNames).range(c).padding(.6);
  const g=svg.append("g");
  g.append("rect").attr("x",c[0]).attr("y",stripY[r][0]).attr("width",c[1]-c[0]).attr("height",stripY[r][1]-stripY[r][0]).attr("fill","#F2F2F2").attr("stroke","#222").attr("stroke-width",1.5);
  g.append("text").attr("x",(c[0]+c[1])/2).attr("y",(stripY[r][0]+stripY[r][1])/2+5.5).attr("text-anchor","middle").attr("font-size",15.5).attr("fill","#333").text(geneAnnotations[i]);
  const t=g.append("text").attr("x",(c[0]+c[1])/2).attr("y",pBase[r]).attr("text-anchor","middle").attr("font-size",15.3).attr("fill","#111");
  t.append("tspan").text("adj. ");t.append("tspan").attr("font-style","italic").text("p");t.append("tspan").text(` = ${adjP[i]}*10`);
  t.append("tspan").attr("font-size",10).attr("dy",-5).text(adjExp[i]);
  [[violinNs[i],groupNames[0],NS,nsMedians[i],nsMeans[i]],[violinMut[i],groupNames[1],MUT,mutMedians[i],mutMeans[i]]].forEach(([prof,gn,col,med,mean])=>{
    const cx=x(gn);
    const area=d3.area().y(d=>y(d[0])).x0(d=>cx-widthScale(d[1])).x1(d=>cx+widthScale(d[1])).curve(d3.curveBasis);
    g.append("path").attr("d",area(prof)+"Z").attr("fill","none").attr("stroke",col).attr("stroke-width",1.6);
    const asc=prof.slice().sort((a,b)=>a[0]-b[0]);
    const w=d3.scaleLinear().domain(asc.map(d=>d[0])).range(asc.map(d=>d[1]))(med);
    g.append("line").attr("x1",cx-widthScale(w)).attr("x2",cx+widthScale(w)).attr("y1",y(med)).attr("y2",y(med)).attr("stroke",col).attr("stroke-width",1.7);
    g.append("circle").attr("cx",cx).attr("cy",y(mean)).attr("r",5.2).attr("fill",col==NS?"#ABABAB":MUT);
  });
  const ya=g.append("g").attr("transform",`translate(${c[0]},0)`).call(d3.axisLeft(y).tickValues(axisTicks[i]).tickFormat(d3.format(axisFormats[i])).tickSizeOuter(0).tickSize(4).tickPadding(4));
  ya.select(".domain").attr("stroke","#111").attr("stroke-width",1.5);
  ya.selectAll("line").attr("stroke","#111").attr("stroke-width",1.3);
  ya.selectAll("text").attr("font-size",16.5).attr("font-family",FONT).attr("fill","#111");
  if(r===1){
    const xa=g.append("g").attr("transform",`translate(0,${rowsY[1][1]})`).call(d3.axisBottom(x).tickSize(4).tickSizeOuter(0).tickFormat(""));
    xa.select(".domain").attr("stroke","#111").attr("stroke-width",1.5);
    xa.selectAll("line").attr("stroke","#111").attr("stroke-width",1.3);
    groupNames.forEach(n=>{
      n.split(" ").forEach((w,j)=>{
        g.append("text").attr("x",x(n)).attr("y",2080+j*17).attr("text-anchor","middle").attr("font-size",16.2).attr("fill","#111").text(w);
      });
    });
  }
}
d3.range(12).forEach(violinPanel);
function panelTitle(x,size,a,b){
  const t=svg.append("text").attr("x",x).attr("y",1558).attr("font-size",size).attr("font-weight","bold").attr("fill","#111");
  t.append("tspan").text(a);t.append("tspan").attr("font-size",13).attr("dy",-8).text("+");t.append("tspan").attr("dy",8).text(b);
}
panelTitle(141,23.7,"Pre-treat: Activated CD8"," T cell neighborhoods");
panelTitle(1079,23.2,"Post-treat: Activated CD8"," T cell neighborhoods");
label(38,1817,"average neighborhood expression",17.4,{anchor:"middle",rotate:true,fill:"#111"});
label(925,1817,"average neighborhood expression",17.4,{anchor:"middle",rotate:true,fill:"#111"});
</script>
</body></html>
